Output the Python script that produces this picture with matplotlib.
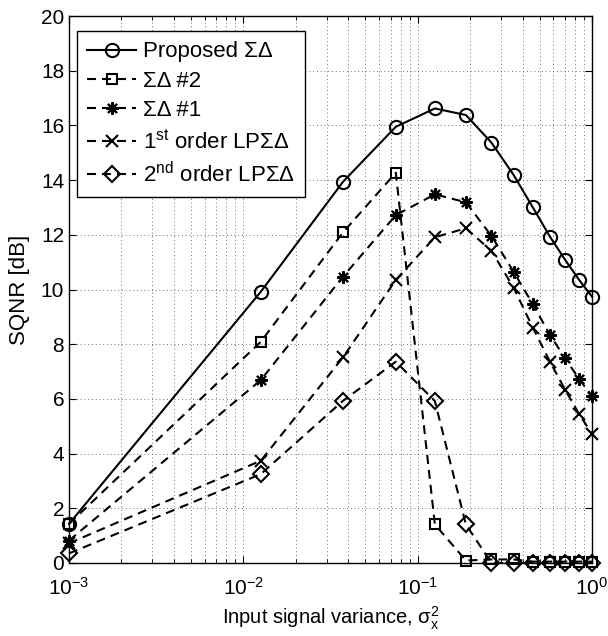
#! /usr/bin/env python

'''
SQNR versus input signal variance for the sigma-delta quantizer variants.
'''

import matplotlib
matplotlib.use('Agg')
import matplotlib.pyplot as plt

# input signal variance at each simulated point
variance = [0.001, 0.0126, 0.0373, 0.0749, 0.1255, 0.189, 0.265,
            0.355, 0.458, 0.574, 0.702, 0.844, 1.0]

# SQNR [dB] for each scheme
sqnr_proposed = [1.43, 9.92, 13.94, 15.95, 16.62, 16.38, 15.37,
                 14.19, 13.0, 11.93, 11.08, 10.35, 9.74]
sqnr_sd2 = [1.43, 8.09, 12.09, 14.27, 1.41, 0.09, 0.13,
            0.13, 0.05, 0.05, 0.05, 0.05, 0.05]
sqnr_sd1 = [0.82, 6.69, 10.47, 12.72, 13.48, 13.19, 11.96,
            10.65, 9.46, 8.34, 7.48, 6.72, 6.11]
sqnr_lp1 = [0.72, 3.74, 7.52, 10.35, 11.91, 12.24, 11.41,
            10.07, 8.6, 7.36, 6.33, 5.44, 4.72]
sqnr_lp2 = [0.35, 3.25, 5.93, 7.36, 5.92, 1.41, 0.0,
            0.0, 0.0, 0.0, 0.0, 0.0, 0.0]

labels = [u'Proposed \u03a3\u0394',
          u'\u03a3\u0394 #2',
          u'\u03a3\u0394 #1',
          u'1$^{\\mathrm{st}}$ order LP\u03a3\u0394',
          u'2$^{\\mathrm{nd}}$ order LP\u03a3\u0394']

yticks = [0, 2, 4, 6, 8, 10, 12, 14, 16, 18, 20]


def plot_sqnr():
    '''
    Draw the five SQNR curves on a log variance axis.
    '''
    plt.rcParams['font.family'] = ['Liberation Sans', 'DejaVu Sans']
    plt.rcParams['mathtext.fontset'] = 'custom'
    plt.rcParams['mathtext.rm'] = 'Liberation Sans'
    plt.rcParams['mathtext.it'] = 'Liberation Sans:italic'
    plt.rcParams['font.size'] = 15

    fig = plt.figure(figsize=(6.08, 6.36), dpi=100)
    ax = fig.add_axes([0.1135, 0.1148, 0.8602, 0.86])

    dash = (0, (4.3, 2.9))
    style = dict(color='k', lw=1.5, mfc='none', mew=1.5, clip_on=False)
    ax.plot(variance, sqnr_proposed, '-', marker='o', markersize=9.5,
            label=labels[0], **style)
    ax.plot(variance, sqnr_sd2, linestyle=dash, marker='s', markersize=7.5,
            label=labels[1], **style)
    ax.plot(variance, sqnr_sd1, linestyle=dash, marker=(8, 2, 0), markersize=9,
            label=labels[2], **style)
    ax.plot(variance, sqnr_lp1, linestyle=dash, marker='x', markersize=8,
            label=labels[3], **style)
    ax.plot(variance, sqnr_lp2, linestyle=dash, marker='D', markersize=8,
            label=labels[4], **style)

    ax.set_xscale('log')
    ax.set_xlim(1e-3, 1)
    ax.set_ylim(0, 20)
    ax.set_yticks(yticks)

    ax.grid(True, which='major', linestyle=(0, (1, 3.5)), color='0.25', lw=0.6)
    ax.grid(True, which='minor', axis='x', linestyle=(0, (1, 3.5)),
            color='0.25', lw=0.6)
    ax.tick_params(which='both', direction='in', top=True, right=True)
    ax.tick_params(which='major', length=5, labelsize=15)
    ax.tick_params(which='minor', length=3)
    ax.tick_params(axis='x', which='major', pad=10)
    for s in ax.spines.values():
        s.set_linewidth(1.0)

    ax.set_xlabel(u'Input signal variance, $\\mathrm{\u03c3}_{\\mathrm{x}}^{2}$',
                  fontsize=14.5, labelpad=4)
    ax.set_ylabel('SQNR [dB]', fontsize=16, labelpad=8)

    leg = ax.legend(loc='upper left', bbox_to_anchor=(0.016, 0.972),
                    borderaxespad=0, fancybox=False, edgecolor='k',
                    framealpha=1, fontsize=16, handlelength=2.2,
                    labelspacing=0.38, handletextpad=0.3, borderpad=0.45)
    leg.get_frame().set_linewidth(1.0)

    fig.savefig('out.png', dpi=100)


if __name__ == '__main__':
    plot_sqnr()
